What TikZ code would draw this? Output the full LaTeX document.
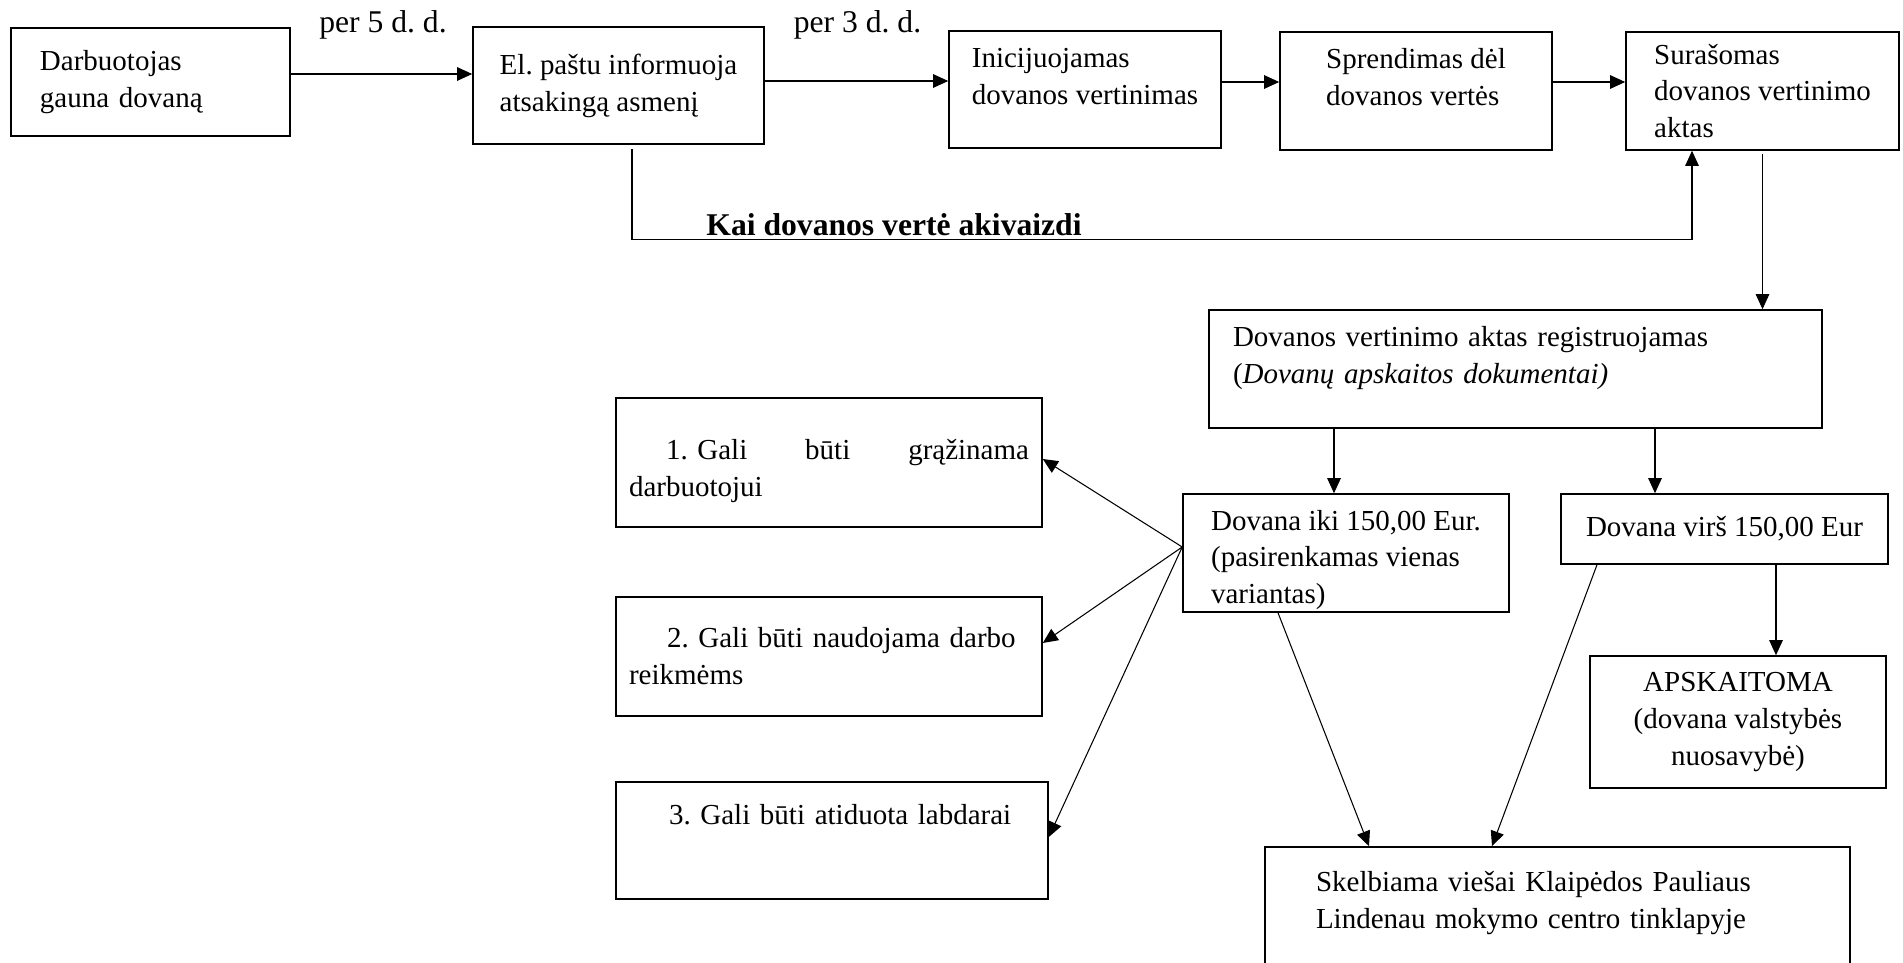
\documentclass[tikz,border=0pt]{standalone}
\usepackage{fontspec}
\setmainfont{Liberation Serif}
\usetikzlibrary{arrows.meta}
\tikzset{blk/.style={draw,line width=0.9pt,inner sep=0pt,align=left,font=\fontsize{16.5}{21}\selectfont},
	lbl/.style={font=\fontsize{18}{22}\selectfont},
	conn/.style={line width=0.6pt,-{Triangle[length=0.3cm,width=0.27cm]}}}
\newcommand{\pushup}[1]{\rule[-#1]{0pt}{#1}}
\newcommand{\pushdn}[1]{\rule{0pt}{#1}}
\frenchspacing

\begin{document}
\begin{tikzpicture}
	\useasboundingbox (0,0) rectangle (38.06,-19.26);
	\clip (0,0) rectangle (38.06,-19.26);
	
	% top row
	\node[blk,minimum width=5.58cm,minimum height=2.16cm,text width=4.42cm] (gauna) at (3.01,-1.64) {Darbuotojas\\gauna dovaną};
	\node[blk,minimum width=5.82cm,minimum height=2.34cm] (info) at (12.37,-1.71) {El. paštu informuoja\\atsakingą asmenį};
	\node[blk,minimum width=5.44cm,minimum height=2.34cm] (init) at (21.70,-1.79) {Inicijuojamas\\dovanos vertinimas\pushup{0.51cm}};
	\node[blk,minimum width=5.44cm,minimum height=2.36cm] (spr) at (28.32,-1.82) {Sprendimas dėl\\dovanos vertės\pushup{0.57cm}};
	\node[blk,minimum width=5.46cm,minimum height=2.36cm] (akt) at (35.25,-1.82) {Surašomas\\dovanos vertinimo\\aktas};
	
	\node[lbl] (p5) at (7.66,-0.5) {per 5 d. d.};
	\node[lbl] (p3) at (17.15,-0.5) {per 3 d. d.};
	\node[lbl,font=\fontsize{18}{22}\selectfont\bfseries,anchor=base] (kai) at (17.88,-4.72) {Kai dovanos vertė akivaizdi};
	
	% registration and value
	\node[blk,minimum width=12.26cm,minimum height=2.36cm,text width=11.3cm] (reg) at (30.31,-7.38) {Dovanos vertinimo aktas registruojamas\\(\textit{Dovanų apskaitos dokumentai)}\pushup{0.55cm}};
	\node[blk,minimum width=6.52cm,minimum height=2.36cm] (iki) at (26.92,-11.06) {\pushdn{0.68cm}Dovana iki 150,00 Eur.\\(pasirenkamas vienas\\variantas)};
	\node[blk,minimum width=6.54cm,minimum height=1.40cm] (virs) at (34.49,-10.58) {Dovana virš 150,00 Eur};
	\node[blk,align=center,minimum width=5.92cm,minimum height=2.64cm] (apsk) at (34.76,-14.44) {APSKAITOMA\\(dovana valstybės\\nuosavybė)};
	\node[blk,minimum width=11.70cm,minimum height=3.12cm,text width=9.66cm] (skelb) at (31.15,-18.5) {Skelbiama viešai Klaipėdos Pauliaus\\Lindenau mokymo centro tinklapyje\pushup{1.01cm}};
	
	% options
	\node[blk,minimum width=8.52cm,minimum height=2.58cm,text width=8cm] (g1) at (16.58,-9.25) {\hspace*{0.74cm}\pushdn{0.76cm}1. Gali\hfill būti\hfill grąžinama\\darbuotojui};
	\node[blk,minimum width=8.52cm,minimum height=2.38cm,text width=8cm] (g2) at (16.58,-13.13) {\hspace*{0.76cm}2. Gali būti naudojama darbo\\reikmėms};
	\node[blk,minimum width=8.64cm,minimum height=2.34cm,text width=8cm] (g3) at (16.64,-16.81) {\hspace*{0.74cm}3. Gali būti atiduota labdarai\pushup{1.05cm}};
	
	\coordinate (k) at (33.84,-4.79);
	
	\draw[conn] ([yshift=0.16cm]gauna.east) -- ([yshift=0.16cm]gauna.east -| info.west);
	\draw[conn] ([yshift=0.09cm]info.east) -- ([yshift=0.09cm]info.east -| init.west);
	\draw[conn] ([yshift=0.15cm]init.east) -- ([yshift=0.15cm]init.east -| spr.west);
	\draw[conn] ([yshift=0.18cm]spr.east) -- ([yshift=0.18cm]spr.east -| akt.west);
	
	\draw[conn] ([xshift=0.27cm,yshift=-0.08cm]info.south) |- (k) -- (k |- akt.south);
	
	\draw[conn] ([yshift=-0.06cm]akt.south) -- (akt.south |- reg.north);
	\draw[conn] ([xshift=-0.24cm]iki.north |- reg.south) -- ([xshift=-0.24cm]iki.north);
	\draw[conn] ([xshift=-1.39cm]virs.north |- reg.south) -- ([xshift=-1.39cm]virs.north);
	\draw[conn] ([xshift=1.03cm]virs.south) -- ([xshift=1.03cm]virs.south |- apsk.north);
	
	\draw[conn] ([yshift=0.12cm]iki.west) -- ([yshift=0.07cm]g1.east);
	\draw[conn] ([yshift=0.12cm]iki.west) -- ([yshift=0.27cm]g2.east);
	\draw[conn] ([yshift=0.12cm]iki.west) -- ([yshift=0.07cm]g3.east);
	
	\draw[conn] ([xshift=-1.36cm]iki.south) -- ([xshift=-3.77cm]skelb.north);
	\draw[conn] ([xshift=-2.55cm]virs.south) -- ([xshift=-1.31cm]skelb.north);
\end{tikzpicture}
\end{document}
